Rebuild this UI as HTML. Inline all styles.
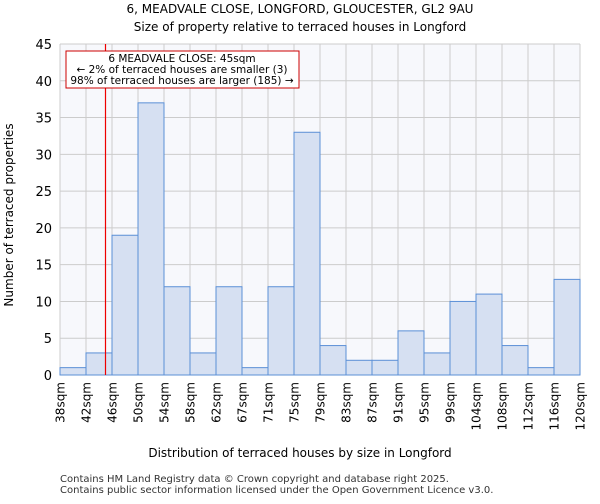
<!DOCTYPE html>
<html><head><meta charset="utf-8"><style>
body{margin:0;background:#fff;font-family:"DejaVu Sans","Liberation Sans",sans-serif;}
svg text{font-family:"DejaVu Sans","Liberation Sans",sans-serif;}
</style></head><body>
<svg id="chart" width="600" height="500" xmlns="http://www.w3.org/2000/svg">
<text x="300" y="13" text-anchor="middle" font-size="12">6, MEADVALE CLOSE, LONGFORD, GLOUCESTER, GL2 9AU</text>
<text x="300" y="31" text-anchor="middle" font-size="12">Size of property relative to terraced houses in Longford</text>
<rect x="60" y="44" width="520" height="331" fill="#f7f8fc"/>
<g id="grid"></g><g id="bars"></g><g id="ticks"></g>
<line id="marker" y1="44" y2="375" stroke="#ee0000" stroke-width="1.2"/>
<rect x="66" y="51" width="233" height="37" fill="#fff" stroke="#cc0000"/>
<text x="182" y="62" text-anchor="middle" font-size="10.5">6 MEADVALE CLOSE: 45sqm</text>
<text x="182" y="73" text-anchor="middle" font-size="10.5">← 2% of terraced houses are smaller (3)</text>
<text x="182" y="84" text-anchor="middle" font-size="10.5">98% of terraced houses are larger (185) →</text>
<text x="300" y="457" text-anchor="middle" font-size="12">Distribution of terraced houses by size in Longford</text>
<text transform="translate(13,215) rotate(-90)" text-anchor="middle" font-size="12">Number of terraced properties</text>
<text x="60" y="482" font-size="10" fill="#333">Contains HM Land Registry data © Crown copyright and database right 2025.</text>
<text x="60" y="493" font-size="10" fill="#333">Contains public sector information licensed under the Open Government Licence v3.0.</text>
</svg>
<script>
const binLabels=["38sqm","42sqm","46sqm","50sqm","54sqm","58sqm","62sqm","67sqm","71sqm","75sqm","79sqm","83sqm","87sqm","91sqm","95sqm","99sqm","104sqm","108sqm","112sqm","116sqm","120sqm"];
const counts=[1,3,19,37,12,3,12,1,12,33,4,2,2,6,3,10,11,4,1,13];
const yTicks=[0,5,10,15,20,25,30,35,40,45];
const markerBin=1.75;
const NS="http://www.w3.org/2000/svg";
const X0=60,X1=580,Y0=375,Y1=44,YMAX=45;
const n=counts.length;
const xs=i=>X0+(X1-X0)*i/n;
const ys=v=>Y0-(Y0-Y1)*v/YMAX;
function mk(t,a,p){const e=document.createElementNS(NS,t);for(const k in a)e.setAttribute(k,a[k]);p.appendChild(e);return e;}
const grid=document.getElementById('grid'),bars=document.getElementById('bars'),ticks=document.getElementById('ticks');
yTicks.forEach(v=>{
 const l=mk('line',{x1:X0,x2:X1,y1:ys(v),y2:ys(v),stroke:'#cccccc'},grid);
 
 
 const t=mk('text',{x:52,y:ys(v)+5,'text-anchor':'end','font-size':'13'},ticks);
 t.textContent=v;
 
 
});
binLabels.forEach((s,i)=>{
 const l=mk('line',{x1:xs(i),x2:xs(i),y1:Y1,y2:Y0,stroke:'#cccccc'},grid);
 
 
 const t=mk('text',{transform:`translate(${xs(i)+4.5},${Y0+7}) rotate(-90)`,'text-anchor':'end','font-size':'12'},ticks);
 t.textContent=s;
 
 
});
counts.forEach((c,i)=>{
 const r=mk('rect',{x:xs(i),y:ys(c),width:xs(i+1)-xs(i),height:Y0-ys(c),fill:'#d6e0f2',stroke:'#5b8fd6','stroke-width':1},bars);
 
 
});
const m=document.getElementById('marker');
m.setAttribute('x1',xs(markerBin));m.setAttribute('x2',xs(markerBin));
</script>
</body></html>
